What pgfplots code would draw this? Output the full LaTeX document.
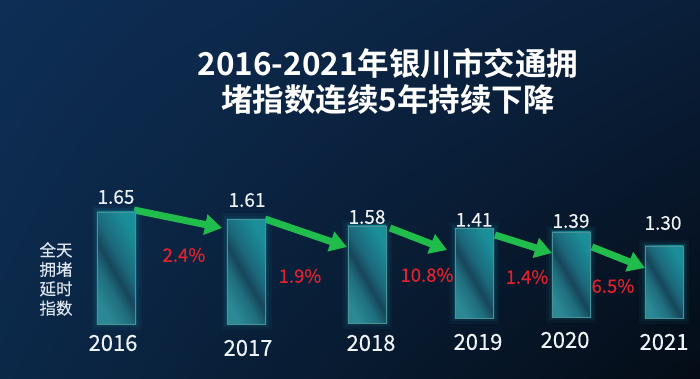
\documentclass[border=0pt]{standalone}
\usepackage{pgfplots}
\pgfplotsset{compat=1.18}
\usepackage{pgfplotstable}
\usepackage{fontspec}
\setmainfont{Noto Sans CJK SC}[BoldFont={Noto Sans CJK SC Bold}]
\newfontfamily\semifont{Noto Sans CJK SC}[FakeBold=0.5]
\newfontfamily\lightbold{Noto Sans CJK SC}[FakeBold=0.2]
\usetikzlibrary{arrows.meta,shadings}

\definecolor{bgUL}{HTML}{0E2E55}
\definecolor{bgUR}{HTML}{0A1F3A}
\definecolor{bgLL}{HTML}{0B2848}
\definecolor{bgLR}{HTML}{040C16}
\definecolor{barA}{HTML}{2B8894}
\definecolor{barB}{HTML}{1F6E7E}
\definecolor{barC}{HTML}{17465B}
\definecolor{barD}{HTML}{1B697B}
\definecolor{barE}{HTML}{1A8F99}
\definecolor{barEdge}{HTML}{62C3C8}
\definecolor{glow}{HTML}{1FB0C0}
\definecolor{arrowgreen}{HTML}{20BC4C}
\definecolor{pctred}{HTML}{E0222E}
\definecolor{txtwhite}{HTML}{EEF3F7}
\definecolor{lblgray}{HTML}{DCE5EE}

\pgfdeclarehorizontalshading{barshade}{100bp}{color(0bp)=(barA); color(25bp)=(barA); color(38bp)=(barB); color(47bp)=(barC); color(56bp)=(barD); color(75bp)=(barE); color(100bp)=(barE)}

% bars: centre x, bottom, height (picture units = pt, y upwards), value
\pgfplotstableread{
x     base  h      val
116.5 55    112    1.65
246.5 55    104.5  1.61
367   56    97     1.58
474   61    89.5   1.41
571   62    85     1.39
664   61    72     1.30
}\bars

\pgfplotstableread{
x   y   lab
116 182 1.65
247 179 1.61
367 162 1.58
474 159 1.41
571 158 1.39
663 156 1.30
}\vals

\pgfplotstableread{
x   y   lab
113 36  2016
248 31  2017
371 36  2018
478 37  2019
565 39  2020
664 37  2021
}\years

\pgfplotstableread{
x   y   lab
184 124 2.4
300 103 1.9
427 104 10.8
527 102 1.4
613 93  6.5
}\pcts

\begin{document}
\begin{tikzpicture}
\shade[upper left=bgUL, upper right=bgUR, lower left=bgLL, lower right=bgLR] (0,0) rectangle (700pt,379pt);
\begin{axis}[at={(0,0)}, anchor=south west, width=700pt, height=379pt,
  scale only axis, xmin=0, xmax=700, ymin=0, ymax=379, hide axis, clip=false]
% floating bars: one glyph per data row, from base up by h
\addplot[scatter, only marks, mark=*, mark size=0pt, mark options={draw=none, fill=none},
  visualization depends on={\thisrow{h} \as \barh},
  scatter/@pre marker code/.code={%
    \draw[glow, line width=12pt, draw opacity=0.05] (-19pt,0pt) rectangle (19pt,\barh pt);
    \draw[glow, line width=7pt, draw opacity=0.08] (-19pt,0pt) rectangle (19pt,\barh pt);
    \draw[glow, line width=3pt, draw opacity=0.15] (-19pt,0pt) rectangle (19pt,\barh pt);
    \shade[shading=barshade, shading angle=30] (-19pt,0pt) rectangle (19pt,\barh pt);
    \draw[barEdge, draw opacity=0.75, line width=0.8pt] (-19pt,0pt) rectangle (19pt,\barh pt);
  },
  scatter/@post marker code/.code={}]
  table[x=x, y=base] \bars;
\addplot[arrowgreen, line width=7pt, -{Triangle[width=20pt,length=17pt]}] coordinates {(134,169) (222,151)};
\addplot[arrowgreen, line width=7pt, -{Triangle[width=20pt,length=17pt]}] coordinates {(265,160) (347,132)};
\addplot[arrowgreen, line width=7pt, -{Triangle[width=20pt,length=17pt]}] coordinates {(390,151) (447,129)};
\addplot[arrowgreen, line width=7pt, -{Triangle[width=20pt,length=17pt]}] coordinates {(495,144) (552,126)};
\addplot[arrowgreen, line width=7pt, -{Triangle[width=20pt,length=17pt]}] coordinates {(592,132) (645,111)};
\addplot[only marks, mark=none, nodes near coords, point meta=explicit symbolic,
  every node near coord/.style={anchor=center, font=\lightbold\fontsize{19}{19}\selectfont, text=txtwhite}]
  table[x=x, y=y, meta=lab] \vals;
\addplot[only marks, mark=none, nodes near coords, point meta=explicit symbolic,
  every node near coord/.style={anchor=center, font=\lightbold\fontsize{22}{22}\selectfont, text=txtwhite}]
  table[x=x, y=y, meta=lab] \years;
\addplot[only marks, mark=none, nodes near coords={\pgfplotspointmeta\%}, point meta=explicit symbolic,
  every node near coord/.style={anchor=center, font=\semifont\fontsize{18.5}{18.5}\selectfont, text=pctred}]
  table[x=x, y=y, meta=lab] \pcts;
\node[font=\bfseries\fontsize{31.5}{31.5}\selectfont, text=white] at (axis cs:388,316) {2016-2021年银川市交通拥};
\node[font=\bfseries\fontsize{31.5}{31.5}\selectfont, text=white] at (axis cs:388,279) {堵指数连续5年持续下降};
\node[align=center, font=\lightbold\fontsize{16.5}{19.4}\selectfont, text=lblgray] at (axis cs:56,100) {全天\\拥堵\\延时\\指数};
\end{axis}
\end{tikzpicture}
\end{document}
